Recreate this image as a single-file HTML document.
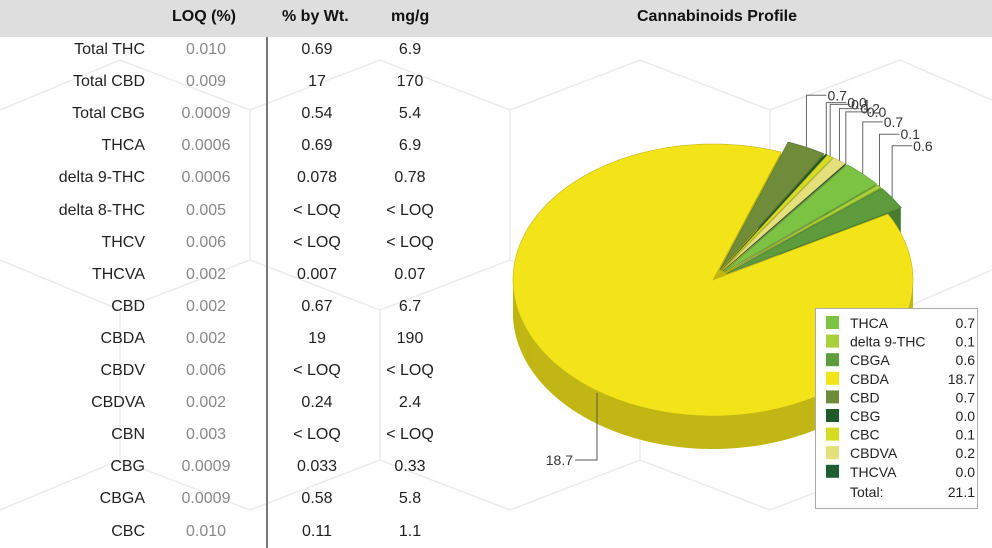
<!DOCTYPE html>
<html><head><meta charset="utf-8"><style>
body{margin:0;background:#fff;font-family:"Liberation Sans",sans-serif;}
#wrap{position:relative;width:992px;height:548px;overflow:hidden;background:#fff}
.hdr{position:absolute;left:0;top:0;width:992px;height:37px;background:#dedede}
.h{position:absolute;top:8px;font-weight:bold;font-size:16px;color:#111}
.c{position:absolute;font-size:16px;color:#222}
.n{text-align:right;width:140px;left:5px}
.l{text-align:center;width:90px;left:161px;color:#888}
.p{text-align:center;width:100px;left:267px}
.m{text-align:center;width:80px;left:370px}
</style></head><body>
<div id="wrap">
<svg id="bg" width="992" height="548" style="position:absolute;left:0;top:0">
<g stroke="#ececec" stroke-width="1.5" fill="none">
<path d="M0 110 L120 60 L250 110 L250 260 L120 310 L0 260 M120 310 L120 460 L0 510 M250 260 L380 310 L380 460 L250 510 L120 460 M380 310 L510 260 L510 110 L380 60 L250 110 M510 110 L640 60 L770 110 L770 260 L640 310 L510 260 M770 110 L900 60 L992 100 M770 260 L900 310 L992 270 M640 310 L640 460 L510 510 L380 460 M900 310 L900 460 L770 510 L640 460"/>
</g></svg>
<div class="hdr"></div>
<div class="h" style="left:172px">LOQ (%)</div>
<div class="h" style="left:282px">% by Wt.</div>
<div class="h" style="left:391px">mg/g</div>
<div class="h" style="left:637px">Cannabinoids Profile</div>
<div style="position:absolute;left:266px;top:37px;width:2px;height:511px;background:#777"></div>
<div id="rows"></div>
<svg id="pie" width="992" height="548" style="position:absolute;left:0;top:0"></svg>
</div>
<script>
const rowNames=["Total THC","Total CBD","Total CBG","THCA","delta 9-THC","delta 8-THC","THCV","THCVA","CBD","CBDA","CBDV","CBDVA","CBN","CBG","CBGA","CBC"];
const rowLoq=["0.010","0.009","0.0009","0.0006","0.0006","0.005","0.006","0.002","0.002","0.002","0.006","0.002","0.003","0.0009","0.0009","0.010"];
const rowPct=["0.69","17","0.54","0.69","0.078","< LOQ","< LOQ","0.007","0.67","19","< LOQ","0.24","< LOQ","0.033","0.58","0.11"];
const rowMg=["6.9","170","5.4","6.9","0.78","< LOQ","< LOQ","0.07","6.7","190","< LOQ","2.4","< LOQ","0.33","5.8","1.1"];
const rowsEl=document.getElementById('rows');
rowNames.forEach((n,i)=>{
  const y=41+i*32.1;
  [['n',n,'row-name'],['l',rowLoq[i],'row-loq'],['p',rowPct[i],'row-pct'],['m',rowMg[i],'row-mg']].forEach(([c,t,nm])=>{
    const d=document.createElement('div');d.className='c '+c;d.style.top=y+'px';d.textContent=t;
    
    
    rowsEl.appendChild(d);
  });
});

const sliceNames=["THCA","delta 9-THC","CBGA","CBDA","CBD","CBG","CBC","CBDVA","THCVA"];
const sliceValues=[0.69,0.078,0.58,18.7,0.67,0.033,0.11,0.24,0.007];
const sliceColors=["#7cc243","#a9d13b","#5d9b3d","#f2e419","#6f8c3b","#1f5a2b","#d6db24","#e4e07c","#1d5e30"];
const NS='http://www.w3.org/2000/svg';
const pieSvg=document.getElementById('pie');
const cx=713,cy=280,rx=200,ry=136,depth=33,startDeg=-52;
const total=sliceValues.reduce((a,b)=>a+b,0);
function dark(hex,f){const v=parseInt(hex.slice(1),16);const r=(v>>16)*f|0,g=((v>>8)&255)*f|0,b=(v&255)*f|0;return `rgb(${r},${g},${b})`;}
function el(t,a){const e=document.createElementNS(NS,t);for(const k in a)e.setAttribute(k,a[k]);return e;}
function sector(a0,a1,ox,oy){
  const r=Math.PI/180;let d=`M${cx+ox} ${cy+oy}`;
  const steps=Math.max(2,Math.ceil((a1-a0)/2));
  for(let s=0;s<=steps;s++){const a=(a0+(a1-a0)*s/steps)*r;d+=` L${cx+ox+rx*Math.cos(a)} ${cy+oy+ry*Math.sin(a)}`;}
  return d+'Z';
}
let acc=startDeg;const slices=[];
sliceValues.forEach((v,i)=>{const a0=acc,a1=acc+v/total*360;acc=a1;
  const m=(a0+a1)/2*Math.PI/180;const big=v/total>0.5;
  slices.push({i,a0,a1,m,big,ox:big?0:16*Math.cos(m),oy:big?0:16*Math.sin(m)*0.7});});
const groups={};
slices.forEach(s=>{
  const g=el('g',{});
  
  
  groups[s.i]=g;
});
function drawSide(s){for(let d=depth;d>0;d-=1){groups[s.i].appendChild(el('path',{d:sector(s.a0,s.a1,s.ox,s.oy+d),fill:dark(sliceColors[s.i],0.8)}));}}
function drawTop(s){groups[s.i].appendChild(el('path',{d:sector(s.a0,s.a1,s.ox,s.oy),fill:sliceColors[s.i],stroke:dark(sliceColors[s.i],0.8),'stroke-width':0.6}));}
const smallSlices=slices.filter(s=>!s.big), bigSlices=slices.filter(s=>s.big);
smallSlices.forEach(s=>{drawSide(s);pieSvg.appendChild(groups[s.i]);});
bigSlices.forEach(s=>{drawSide(s);drawTop(s);pieSvg.appendChild(groups[s.i]);});
const topLayer=el('g',{});


smallSlices.forEach(s=>{topLayer.appendChild(el('path',{d:sector(s.a0,s.a1,s.ox,s.oy),fill:sliceColors[s.i],stroke:dark(sliceColors[s.i],0.8),'stroke-width':0.6}));});
pieSvg.appendChild(topLayer);
// labels
slices.forEach(s=>{
  const txt=sliceValues[s.i].toFixed(1);
  const g=el('g',{});
  
  
  if(s.big){
    const x=597,y0=393,y1=460;
    g.appendChild(el('path',{d:`M${x} ${y0} L${x} ${y1} L${x-22} ${y1}`,stroke:'#555',fill:'none','stroke-width':1}));
    const t=el('text',{x:x-24,y:y1+5,'text-anchor':'end','font-size':14,fill:'#333','font-family':'Liberation Sans, sans-serif'});t.textContent=txt;g.appendChild(t);
  } else {
    const px=cx+s.ox+rx*Math.cos(s.m), py=cy+s.oy+ry*Math.sin(s.m);
    const ly=py-52;
    g.appendChild(el('path',{d:`M${px} ${py} L${px} ${ly} L${px+20} ${ly}`,stroke:'#666',fill:'none','stroke-width':1}));
    const t=el('text',{x:px+21,y:ly+5,'font-size':14,fill:'#333','font-family':'Liberation Sans, sans-serif'});t.textContent=txt;g.appendChild(t);
  }
  pieSvg.appendChild(g);
});
// legend
const lg=el('g',{});


lg.appendChild(el('rect',{x:815.5,y:308.5,width:162,height:200,fill:'#fff',stroke:'#aaa','stroke-width':1}));
sliceNames.forEach((n,i)=>{
  const y=316+i*18.6;
  const e=el('g',{});
  
  
  e.appendChild(el('rect',{x:826,y:y,width:13,height:13,fill:sliceColors[i]}));
  const t=el('text',{x:850,y:y+12,'font-size':14,fill:'#222','font-family':'Liberation Sans, sans-serif'});t.textContent=n;e.appendChild(t);
  const v=el('text',{x:975,y:y+12,'font-size':14,fill:'#222','text-anchor':'end','font-family':'Liberation Sans, sans-serif'});v.textContent=sliceValues[i].toFixed(1);e.appendChild(v);
  lg.appendChild(e);
});
const tt=el('text',{x:850,y:497,'font-size':14,fill:'#222','font-family':'Liberation Sans, sans-serif'});tt.textContent='Total:';lg.appendChild(tt);
const tv=el('text',{x:975,y:497,'font-size':14,fill:'#222','text-anchor':'end','font-family':'Liberation Sans, sans-serif'});tv.textContent=total.toFixed(1);lg.appendChild(tv);
pieSvg.appendChild(lg);
</script>
</body></html>
